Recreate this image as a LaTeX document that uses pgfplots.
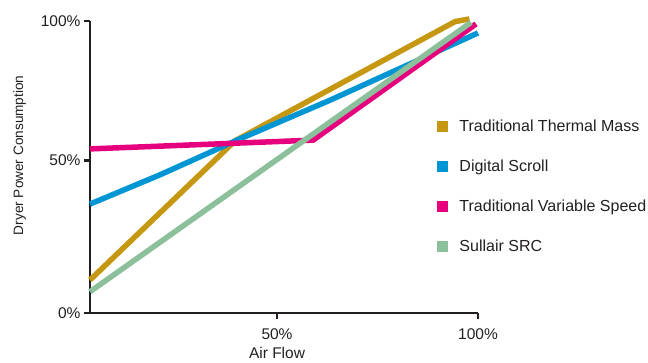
\documentclass[border=0pt]{standalone}
\usepackage{pgfplots}
\pgfplotsset{compat=1.18}
\usepackage{fontspec}
\setmainfont{Liberation Sans}
\definecolor{cgold}{RGB}{198,152,18}
\definecolor{cblue}{RGB}{0,150,212}
\definecolor{cpink}{RGB}{230,0,126}
\definecolor{cgreen}{RGB}{140,192,155}
\definecolor{ctext}{RGB}{35,31,32}
\begin{document}
\begin{tikzpicture}
\path[use as bounding box] (0,0) rectangle (648pt,362pt);
\begin{axis}[
  scale only axis,
  width=388pt, height=292pt,
  at={(90pt,49pt)}, anchor=south west,
  xmin=0, xmax=100, ymin=0, ymax=100,
  clip=false,
  axis lines=left,
  axis line style={line width=2.6pt, color=ctext, -},
  axis line shift=0pt,
  tick align=outside,
  major tick length=6pt,
  tick style={line width=2.2pt, color=ctext},
  xtick={48.2,100}, xticklabels={50\%,100\%},
  ytick={0,52.2,100}, yticklabels={0\%,50\%,100\%},
  tick label style={font=\fontsize{15.5}{16}\selectfont, color=ctext},
  xticklabel style={yshift=-6pt},
  xlabel={Air Flow},
  ylabel={Dryer Power Consumption},
  xlabel style={font=\fontsize{15.5}{16}\selectfont, color=ctext, at={(ticklabel cs:0.482)}, yshift=-1pt},
  ylabel style={font=\fontsize{13.6}{14}\selectfont, color=ctext, at={(ticklabel cs:0.54)}, yshift=8pt},
  legend image code/.code={\fill[#1, draw=none] (0pt,-5.5pt) rectangle (11pt,5.5pt);},
  legend cell align=left,
  legend style={draw=none, fill=none, at={(axis description cs:0.895,0.67)}, anchor=north west,
    font=\fontsize{16}{16}\selectfont, text=ctext, row sep=23pt, inner sep=0pt,
    /tikz/every odd column/.style={column sep=9pt}},
  every axis plot/.append style={line width=5.5pt, line join=miter},
]
\addplot[cgold, mark=none] coordinates {(0,11.3) (37.4,59.0) (94.1,99.8) (97.8,100.7)};
\addlegendentry{Traditional Thermal Mass}
\addplot[cblue, mark=none] coordinates {(0,37.3) (18.0,47.3) (37.9,59.2) (61.9,72.9) (100,95.9)};
\addlegendentry{Digital Scroll}
\addplot[cpink, mark=none] coordinates {(0,56.2) (57.5,59.2) (99.5,99.0)};
\addlegendentry{Traditional Variable Speed}
\addplot[cgreen, mark=none] coordinates {(0,7.3) (98.2,99.5)};
\addlegendentry{Sullair SRC}
\end{axis}
\end{tikzpicture}
\end{document}
